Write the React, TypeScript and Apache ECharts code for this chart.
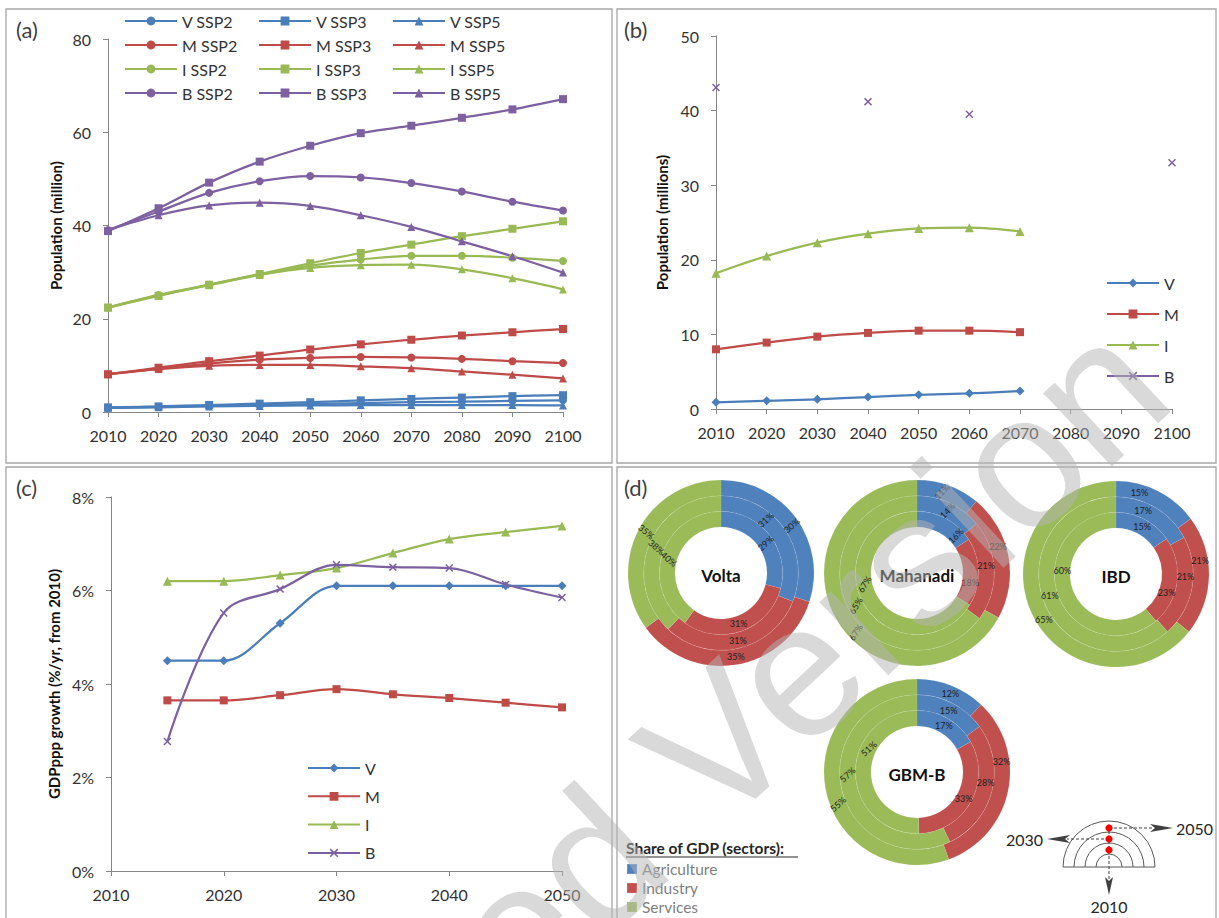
import React, { useEffect, useRef } from 'react';
import * as echarts from 'echarts';

const FONT = 'Lato, "Noto Sans", sans-serif';

// ---- (a) Population projections by SSP (million) ----
const popYears = [2010, 2020, 2030, 2040, 2050, 2060, 2070, 2080, 2090, 2100];
const vSsp2 = [0.9, 1.1, 1.3, 1.5, 1.7, 1.9, 2.1, 2.2, 2.4, 2.5];
const vSsp3 = [1.0, 1.2, 1.5, 1.8, 2.1, 2.5, 2.8, 3.1, 3.4, 3.6];
const vSsp5 = [0.9, 1.0, 1.2, 1.3, 1.4, 1.5, 1.5, 1.5, 1.5, 1.4];
const mSsp2 = [8.1, 9.3, 10.4, 11.2, 11.6, 11.8, 11.7, 11.4, 10.9, 10.5];
const mSsp3 = [8.1, 9.5, 10.9, 12.1, 13.4, 14.5, 15.5, 16.4, 17.1, 17.8];
const mSsp5 = [8.1, 9.2, 9.9, 10.1, 10.1, 9.8, 9.4, 8.7, 8.0, 7.2];
const iSsp2 = [22.4, 25.1, 27.3, 29.5, 31.4, 32.7, 33.5, 33.5, 33.1, 32.4];
const iSsp3 = [22.4, 24.9, 27.3, 29.6, 31.9, 34.1, 35.9, 37.7, 39.3, 40.9];
const iSsp5 = [22.4, 25.0, 27.2, 29.4, 30.9, 31.5, 31.6, 30.6, 28.7, 26.3];
const bSsp2 = [39.0, 43.0, 47.0, 49.5, 50.6, 50.3, 49.1, 47.3, 45.1, 43.2];
const bSsp3 = [38.8, 43.7, 49.2, 53.7, 57.1, 59.8, 61.4, 63.1, 64.9, 67.1];
const bSsp5 = [39.0, 42.2, 44.3, 44.9, 44.2, 42.2, 39.7, 36.6, 33.4, 29.9];

// ---- (b) Population (millions), basin estimates ----
const bYears = [2010, 2020, 2030, 2040, 2050, 2060, 2070, 2080, 2090, 2100];
const bPanelV = [0.9, 1.1, 1.3, 1.6, 1.9, 2.1, 2.4, null, null, null];
const bPanelM = [8.0, 8.9, 9.7, 10.2, 10.5, 10.5, 10.3, null, null, null];
const bPanelI = [18.2, 20.5, 22.3, 23.5, 24.2, 24.3, 23.8, null, null, null];
const bPanelB = [43.1, null, null, 41.2, null, 39.5, null, null, null, 33.0];

// ---- (c) GDP(PPP) growth, %/yr from 2010 ----
const gdpYears = [2015, 2020, 2025, 2030, 2035, 2040, 2045, 2050];
const gdpV = [4.5, 4.5, 5.3, 6.1, 6.1, 6.1, 6.1, 6.1];
const gdpM = [3.65, 3.65, 3.76, 3.89, 3.78, 3.7, 3.6, 3.5];
const gdpI = [6.2, 6.2, 6.33, 6.48, 6.8, 7.1, 7.25, 7.38];
const gdpB = [2.77, 5.52, 6.03, 6.55, 6.5, 6.48, 6.13, 5.85];

// ---- (d) Share of GDP by sector, rings: 2010 (inner), 2030, 2050 (outer) ----
const sectors = ['Agriculture', 'Industry', 'Services'];
const ringYears = [2010, 2030, 2050];
const voltaAgri = [29, 31, 30];
const voltaInd = [31, 31, 35];
const voltaServ = [40, 38, 35];
const mahanadiAgri = [16, 14, 11];
const mahanadiInd = [18, 21, 22];
const mahanadiServ = [67, 65, 67];
const ibdAgri = [15, 17, 15];
const ibdInd = [23, 21, 21];
const ibdServ = [60, 61, 65];
const gbmAgri = [17, 15, 12];
const gbmInd = [33, 28, 32];
const gbmServ = [51, 57, 55];

const BLUE = '#4a7ebb';
const RED = '#be4b48';
const GREEN = '#98b954';
const PURPLE = '#7d60a0';
const SECTOR_COLORS = ['#4f81bd', '#c0504d', '#9bbb59'];

const CROSS = 'path://M0,1.3L1.3,0L5,3.7L8.7,0L10,1.3L6.3,5L10,8.7L8.7,10L5,6.3L1.3,10L0,8.7L3.7,5Z';

function lineSeries(name: string, idx: number, years: number[], values: (number | null)[], color: string, symbol: string, size: number) {
  return {
    type: 'line',
    name,
    xAxisIndex: idx,
    yAxisIndex: idx,
    data: years.map((y, i) => [y, values[i] == null ? '-' : values[i]]),
    smooth: 0.35,
    symbol,
    symbolSize: size,
    showSymbol: true,
    lineStyle: { width: 2.25, color },
    itemStyle: { color },
    emphasis: { disabled: true },
    z: 3,
  };
}

const axisLineStyle = { lineStyle: { color: '#868686', width: 1 } };

function xAxis(gridIndex: number, min: number, max: number) {
  return {
    type: 'value',
    gridIndex,
    min,
    max,
    interval: 10,
    axisLine: axisLineStyle,
    axisTick: { show: true, length: 5, lineStyle: { color: '#868686' } },
    splitLine: { show: false },
    axisLabel: { color: '#333', fontSize: 16, fontFamily: FONT, margin: 15, formatter: (v: number) => String(v) },
  };
}

function yAxis(gridIndex: number, min: number, max: number, interval: number, name: string, nameGap: number, suffix = '') {
  return {
    type: 'value',
    gridIndex,
    min,
    max,
    interval,
    name,
    nameLocation: 'middle',
    nameGap,
    nameTextStyle: { fontSize: 15, fontWeight: 'bold', color: '#111', fontFamily: FONT },
    axisLine: { show: true, ...axisLineStyle },
    axisTick: { show: true, length: 5, lineStyle: { color: '#868686' } },
    splitLine: { show: false },
    axisLabel: { color: '#333', fontSize: 16, fontFamily: FONT, margin: 17, formatter: (v: number) => `${v}${suffix}` },
  };
}

const legendText = { fontSize: 16, color: '#333', fontFamily: FONT, lineHeight: 16 };

function lineLegend(names: string[], left: number, top: number, itemGap: number) {
  return {
    orient: 'vertical',
    left,
    top,
    padding: 0,
    itemWidth: 52,
    itemHeight: 11,
    itemGap,
    selectedMode: false,
    textStyle: legendText,
    data: names,
  };
}

// donut geometry; label angles are degrees clockwise from 12 o'clock,
// indexed [sector][ring], label tilt is per sector
const R0 = 46;
const R1 = 93;
const basins = [
  {
    name: 'Volta', center: [721, 573], shares: [voltaAgri, voltaInd, voltaServ], rot: [42, 0, -40],
    labelAngle: [[56, 40, 56], [161, 166, 170], [285, 292, 299]],
  },
  {
    name: 'Mahanadi', center: [917, 573], shares: [mahanadiAgri, mahanadiInd, mahanadiServ], rot: [45, 0, 58],
    labelAngle: [[46, 26, 17], [100, 84, 72], [258, 242, 226]],
  },
  {
    name: 'IBD', center: [1116, 574], shares: [ibdAgri, ibdInd, ibdServ], rot: [0, 0, 0],
    labelAngle: [[29, 23, 16], [110, 92, 81], [274, 252, 238]],
  },
  {
    name: 'GBM-B', center: [917, 772], shares: [gbmAgri, gbmInd, gbmServ], rot: [0, 0, 42],
    labelAngle: [[30, 27, 23], [120, 99, 83], [296, 268, 248]],
  },
];

function pieSeries() {
  const out: any[] = [];
  const w = (R1 - R0) / ringYears.length;
  basins.forEach((b) => {
    ringYears.forEach((yr, ri) => {
      const rIn = R0 + w * ri;
      const rOut = R0 + w * (ri + 1);
      const rMid = (rIn + rOut) / 2;
      out.push({
        type: 'pie',
        name: `${b.name} ${yr}`,
        center: b.center,
        radius: [rIn, rOut],
        startAngle: 90,
        clockwise: true,
        silent: true,
        avoidLabelOverlap: false,
        emphasis: { disabled: true },
        labelLine: { show: false },
        itemStyle: { borderColor: 'rgba(255,255,255,0.14)', borderWidth: 0.6 },
        label: {
          show: true,
          position: 'inside',
          formatter: '{c}%',
          fontSize: 9,
          fontFamily: FONT,
          color: '#1e1e1e',
        },
        labelLayout: (p: any) => {
          const si = p.dataIndex;
          const a = (b.labelAngle[si][ri] * Math.PI) / 180;
          return {
            x: b.center[0] + rMid * Math.sin(a),
            y: b.center[1] - rMid * Math.cos(a),
            rotate: b.rot[si],
            hideOverlap: false,
          };
        },
        data: sectors.map((s, si) => ({
          name: s,
          value: b.shares[si][ri],
          itemStyle: { color: SECTOR_COLORS[si] },
        })),
      });
    });
  });
  return out;
}

function buildGraphics() {
  const g: any[] = [];
  const border = (x: number, y: number, w: number, h: number) => ({
    type: 'rect',
    shape: { x, y, width: w, height: h },
    style: { fill: 'none', stroke: '#a6a6a6', lineWidth: 1.3 },
    silent: true,
  });
  g.push(border(6, 9, 606, 454));
  g.push(border(617, 9, 599, 454));
  g.push(border(6, 467, 606, 460));
  g.push(border(617, 467, 599, 460));

  const panelLabel = (text: string, x: number, y: number) => ({
    type: 'text',
    style: { text, x, y, fill: '#404040', font: `22px ${FONT}`, textAlign: 'left', textVerticalAlign: 'middle' },
    silent: true,
  });
  g.push(panelLabel('(a)', 16, 29));
  g.push(panelLabel('(b)', 624, 29));
  g.push(panelLabel('(c)', 16, 487));
  g.push(panelLabel('(d)', 624, 487));

  basins.forEach((b) => {
    g.push({
      type: 'text',
      style: { text: b.name, x: b.center[0], y: b.center[1] + 2, fill: '#111', font: `bold 17px ${FONT}`, textAlign: 'center', textVerticalAlign: 'middle' },
      silent: true,
    });
  });

  // sector legend heading
  g.push({
    type: 'text',
    style: { text: 'Share of GDP (sectors):', x: 626, y: 848, fill: '#262626', font: `bold 15.5px ${FONT}`, textAlign: 'left', textVerticalAlign: 'middle' },
    silent: true,
  });
  g.push({ type: 'line', shape: { x1: 626, y1: 857, x2: 798, y2: 857 }, style: { stroke: '#262626', lineWidth: 1 }, silent: true });

  // ring-year key
  const cx = 1109;
  const cy = 867;
  [13, 24, 35, 46].forEach((r) => {
    g.push({ type: 'arc', shape: { cx, cy, r, startAngle: Math.PI, endAngle: Math.PI * 2, clockwise: true }, style: { stroke: '#595959', lineWidth: 1, fill: 'none' }, silent: true });
  });
  g.push({ type: 'line', shape: { x1: cx - 46, y1: cy, x2: cx + 46, y2: cy }, style: { stroke: '#595959', lineWidth: 1 }, silent: true });
  const dash = { stroke: '#404040', lineWidth: 1, lineDash: [3, 2] };
  g.push({ type: 'line', shape: { x1: cx, y1: 826, x2: cx, y2: 882 }, style: dash, silent: true });
  g.push({ type: 'line', shape: { x1: cx, y1: 828, x2: 1153, y2: 828 }, style: dash, silent: true });
  g.push({ type: 'line', shape: { x1: cx, y1: 839, x2: 1067, y2: 839 }, style: dash, silent: true });
  const head = { fill: '#404040', stroke: 'none' };
  g.push({ type: 'polygon', shape: { points: [[cx, 895], [cx - 4, 877], [cx, 881], [cx + 4, 877]] }, style: head, silent: true });
  g.push({ type: 'polygon', shape: { points: [[1173, 828], [1150, 824], [1155, 828], [1150, 832]] }, style: head, silent: true });
  g.push({ type: 'polygon', shape: { points: [[1047, 839], [1070, 835], [1065, 839], [1070, 843]] }, style: head, silent: true });
  [828, 839, 850].forEach((y) => {
    g.push({ type: 'circle', shape: { cx, cy: y, r: 3.6 }, style: { fill: '#ff0000' }, silent: true, z: 5 });
  });
  const keyText = (text: string, x: number, y: number, align: string) => ({
    type: 'text',
    style: { text, x, y, fill: '#262626', font: `16px ${FONT}`, textAlign: align, textVerticalAlign: 'middle' },
    silent: true,
  });
  g.push(keyText('2050', 1176, 828, 'left'));
  g.push(keyText('2030', 1043, 839, 'right'));
  g.push(keyText('2010', cx, 906, 'center'));

  // watermark
  g.push({
    type: 'text',
    z: 100,
    silent: true,
    rotation: (43 * Math.PI) / 180,
    x: 543,
    y: 1037,
    style: {
      text: 'ed Version',
      x: 0,
      y: 0,
      fill: 'rgba(180,180,180,0.5)',
      font: '190px "Liberation Sans", Arial, sans-serif',
      textAlign: 'left',
      textVerticalAlign: 'bottom',
    },
  });
  return g;
}

function buildOption() {
  return {
    animation: false,
    backgroundColor: '#ffffff',
    textStyle: { fontFamily: FONT },
    grid: [
      { left: 108, top: 39, width: 455, height: 373 },
      { left: 716, top: 36, width: 456, height: 373 },
      { left: 111, top: 497, width: 451, height: 374 },
    ],
    xAxis: [xAxis(0, 2010, 2100), xAxis(1, 2010, 2100), xAxis(2, 2010, 2050)],
    yAxis: [
      yAxis(0, 0, 80, 20, 'Population (million)', 45),
      yAxis(1, 0, 50, 10, 'Population (millions)', 47),
      yAxis(2, 0, 8, 2, 'GDPppp growth (%/yr, from 2010)', 50, '%'),
    ],
    legend: [
      lineLegend(['V SSP2', 'M SSP2', 'I SSP2', 'B SSP2'], 124, 13, 8),
      lineLegend(['V SSP3', 'M SSP3', 'I SSP3', 'B SSP3'], 258, 13, 8),
      lineLegend(['V SSP5', 'M SSP5', 'I SSP5', 'B SSP5'], 392, 13, 8),
      lineLegend(['V', 'M', 'I', 'B'], 1106, 275, 15),
      lineLegend(['V', 'M', 'I', 'B'], 307, 760, 12.3),
      {
        orient: 'vertical',
        left: 626,
        top: 861,
        height: 80,
        padding: 0,
        itemWidth: 10,
        itemHeight: 10,
        itemGap: 3,
        icon: 'rect',
        selectedMode: false,
        textStyle: { fontSize: 15.5, color: '#7f7f7f', fontFamily: FONT, lineHeight: 16 },
        data: sectors,
      },
    ],
    series: [
      lineSeries('V SSP2', 0, popYears, vSsp2, BLUE, 'circle', 8),
      lineSeries('V SSP3', 0, popYears, vSsp3, BLUE, 'rect', 8),
      lineSeries('V SSP5', 0, popYears, vSsp5, BLUE, 'triangle', 8),
      lineSeries('M SSP2', 0, popYears, mSsp2, RED, 'circle', 8),
      lineSeries('M SSP3', 0, popYears, mSsp3, RED, 'rect', 8),
      lineSeries('M SSP5', 0, popYears, mSsp5, RED, 'triangle', 8),
      lineSeries('I SSP2', 0, popYears, iSsp2, GREEN, 'circle', 8),
      lineSeries('I SSP3', 0, popYears, iSsp3, GREEN, 'rect', 8),
      lineSeries('I SSP5', 0, popYears, iSsp5, GREEN, 'triangle', 8),
      lineSeries('B SSP2', 0, popYears, bSsp2, PURPLE, 'circle', 8),
      lineSeries('B SSP3', 0, popYears, bSsp3, PURPLE, 'rect', 8),
      lineSeries('B SSP5', 0, popYears, bSsp5, PURPLE, 'triangle', 8),

      lineSeries('V', 1, bYears, bPanelV, BLUE, 'diamond', 9),
      lineSeries('M', 1, bYears, bPanelM, RED, 'rect', 8),
      lineSeries('I', 1, bYears, bPanelI, GREEN, 'triangle', 9),
      lineSeries('B', 1, bYears, bPanelB, PURPLE, CROSS, 8),

      lineSeries('V', 2, gdpYears, gdpV, BLUE, 'diamond', 9),
      lineSeries('M', 2, gdpYears, gdpM, RED, 'rect', 8),
      lineSeries('I', 2, gdpYears, gdpI, GREEN, 'triangle', 9),
      lineSeries('B', 2, gdpYears, gdpB, PURPLE, CROSS, 8),

      ...pieSeries(),
    ],
    graphic: { elements: buildGraphics() },
  };
}

export default function App() {
  const ref = useRef<HTMLDivElement>(null);
  useEffect(() => {
    if (!ref.current) return;
    const chart = echarts.init(ref.current, undefined, { renderer: 'svg' });
    chart.setOption(buildOption() as any);
    return () => chart.dispose();
  }, []);
  return (
    <div
      ref={ref}
      style={{ position: 'fixed', left: 0, top: 0, width: 1219, height: 918, background: '#fff' }}
    />
  );
}
